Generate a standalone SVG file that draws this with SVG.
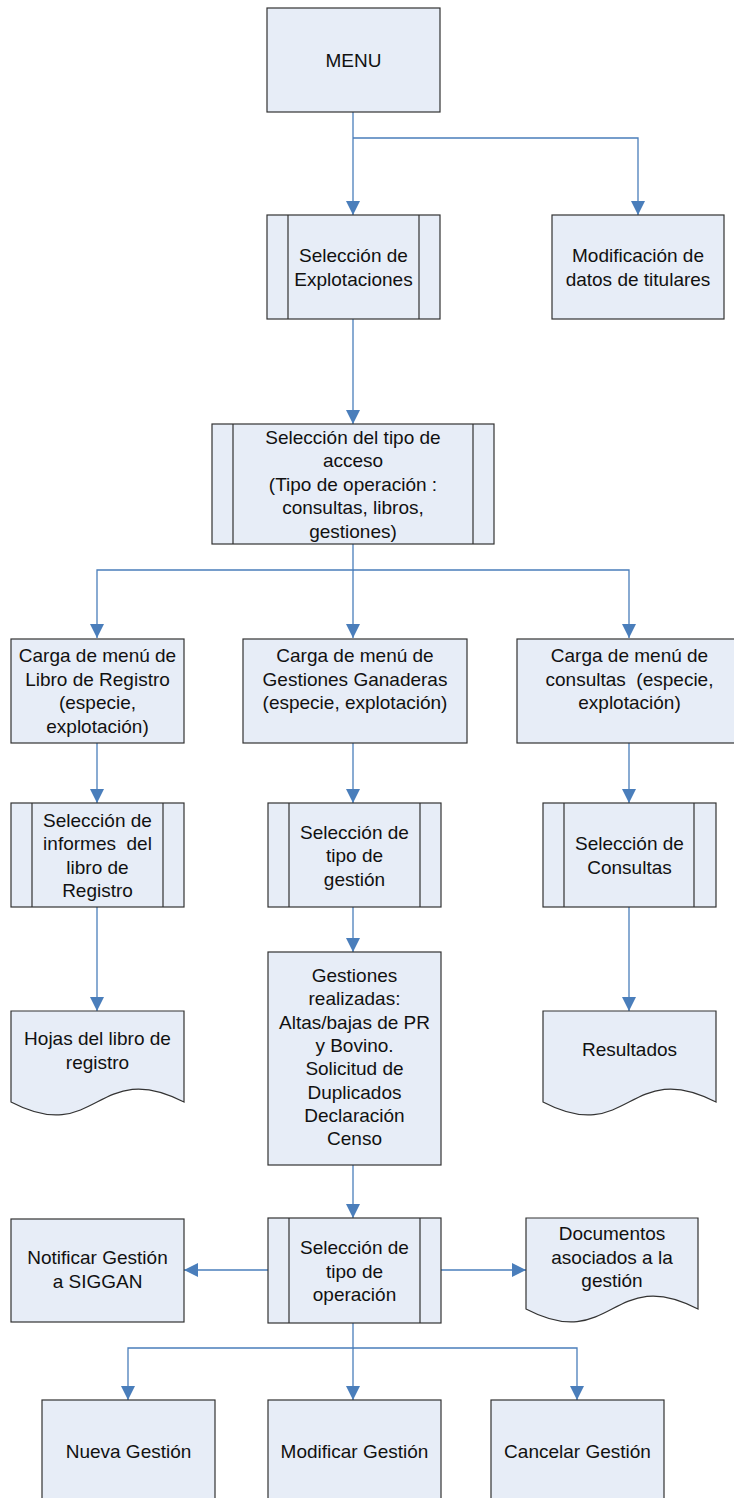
<svg xmlns="http://www.w3.org/2000/svg" width="734" height="1498" viewBox="0 0 734 1498">
<style>
.box{fill:#E7EDF7;stroke:#333;stroke-width:1.2}
.bar{stroke:#333;stroke-width:1.2;fill:none}
.con{fill:none;stroke:#4A7EBB;stroke-width:1.3}
text{font-family:"Liberation Sans",Arial,sans-serif;font-size:19px;fill:#111;text-anchor:middle;white-space:pre}
</style>
<defs>
<marker id="ah" markerUnits="userSpaceOnUse" markerWidth="14" markerHeight="14" viewBox="0 0 12 12" refX="12" refY="6" orient="auto">
<path d="M0,0 L12,6 L0,12 Z" fill="#4A7EBB"/>
</marker>
</defs>
<rect width="734" height="1498" fill="#fff"/>
<g id="connectors">
<path class="con" d="M353,112 V215" marker-end="url(#ah)"/>
<path class="con" d="M353,138 H638 V215" marker-end="url(#ah)"/>
<path class="con" d="M353,319 V424" marker-end="url(#ah)"/>
<path class="con" d="M353,544 V570 H97 V638" marker-end="url(#ah)"/>
<path class="con" d="M353,570 V638" marker-end="url(#ah)"/>
<path class="con" d="M353,570 H629 V638" marker-end="url(#ah)"/>
<path class="con" d="M97,743 V803" marker-end="url(#ah)"/>
<path class="con" d="M353,743 V803" marker-end="url(#ah)"/>
<path class="con" d="M629,743 V803" marker-end="url(#ah)"/>
<path class="con" d="M97,907 V1011" marker-end="url(#ah)"/>
<path class="con" d="M353,907 V952" marker-end="url(#ah)"/>
<path class="con" d="M629,907 V1011" marker-end="url(#ah)"/>
<path class="con" d="M353,1165 V1218" marker-end="url(#ah)"/>
<path class="con" d="M268,1270 H184" marker-end="url(#ah)"/>
<path class="con" d="M441,1270 H526" marker-end="url(#ah)"/>
<path class="con" d="M353,1323 V1348 H128 V1400" marker-end="url(#ah)"/>
<path class="con" d="M353,1348 V1400" marker-end="url(#ah)"/>
<path class="con" d="M353,1348 H577 V1400" marker-end="url(#ah)"/>
</g>
<g id="menu">
<rect class="box" x="267" y="8" width="173" height="104"/>
<text x="353.5" y="67">MENU</text>
</g>
<g id="sel-explotaciones">
<rect class="box" x="267" y="215" width="173" height="104"/>
<path class="bar" d="M288,215 V319 M419,215 V319"/>
<text x="353.5" y="262">Selección de</text>
<text x="353.5" y="285.5">Explotaciones</text>
</g>
<g id="mod-titulares">
<rect class="box" x="552" y="215" width="172" height="104"/>
<text x="638" y="262">Modificación de</text>
<text x="638" y="285.5">datos de titulares</text>
</g>
<g id="sel-tipo-acceso">
<rect class="box" x="212" y="424" width="282" height="120"/>
<path class="bar" d="M233,424 V544 M473,424 V544"/>
<text x="353" y="443.5">Selección del tipo de</text>
<text x="353" y="467">acceso</text>
<text x="353" y="490.5">(Tipo de operación :</text>
<text x="353" y="514">consultas, libros,</text>
<text x="353" y="537.5">gestiones)</text>
</g>
<g id="carga-libro">
<rect class="box" x="11" y="639" width="173" height="104"/>
<text x="97.5" y="662">Carga de menú de</text>
<text x="97.5" y="685.5">Libro de Registro</text>
<text x="97.5" y="709">(especie,</text>
<text x="97.5" y="732.5">explotación)</text>
</g>
<g id="carga-gestiones">
<rect class="box" x="243" y="639" width="224" height="104"/>
<text x="355" y="662">Carga de menú de</text>
<text x="355" y="685.5">Gestiones Ganaderas</text>
<text x="355" y="709">(especie, explotación)</text>
</g>
<g id="carga-consultas">
<rect class="box" x="517" y="639" width="226" height="104"/>
<text x="629.5" y="662">Carga de menú de</text>
<text x="629.5" y="685.5">consultas  (especie,</text>
<text x="629.5" y="709">explotación)</text>
</g>
<g id="sel-informes">
<rect class="box" x="11" y="803" width="173" height="104"/>
<path class="bar" d="M32,803 V907 M163,803 V907"/>
<text x="97.5" y="826.5">Selección de</text>
<text x="97.5" y="850">informes  del</text>
<text x="97.5" y="873.5">libro de</text>
<text x="97.5" y="897">Registro</text>
</g>
<g id="sel-tipo-gestion">
<rect class="box" x="268" y="803" width="173" height="104"/>
<path class="bar" d="M289,803 V907 M420,803 V907"/>
<text x="354.5" y="838.5">Selección de</text>
<text x="354.5" y="862">tipo de</text>
<text x="354.5" y="885.5">gestión</text>
</g>
<g id="sel-consultas">
<rect class="box" x="543" y="803" width="173" height="104"/>
<path class="bar" d="M564,803 V907 M694,803 V907"/>
<text x="629.5" y="850">Selección de</text>
<text x="629.5" y="873.5">Consultas</text>
</g>
<g id="hojas">
<path class="box" d="M11,1011 H184 V1102 C97,1057 97,1147 11,1102 Z"/>
<text x="97.5" y="1045">Hojas del libro de</text>
<text x="97.5" y="1068.5">registro</text>
</g>
<g id="gestiones-realizadas">
<rect class="box" x="268" y="952" width="173" height="213"/>
<text x="354.5" y="982">Gestiones</text>
<text x="354.5" y="1005.3">realizadas:</text>
<text x="354.5" y="1028.6">Altas/bajas de PR</text>
<text x="354.5" y="1051.9">y Bovino.</text>
<text x="354.5" y="1075.2">Solicitud de</text>
<text x="354.5" y="1098.5">Duplicados</text>
<text x="354.5" y="1121.8">Declaración</text>
<text x="354.5" y="1145.1">Censo</text>
</g>
<g id="resultados">
<path class="box" d="M543,1011 H716 V1102 C629,1057 629,1147 543,1102 Z"/>
<text x="629.5" y="1056">Resultados</text>
</g>
<g id="sel-tipo-operacion">
<rect class="box" x="268" y="1218" width="173" height="105"/>
<path class="bar" d="M289,1218 V1323 M420,1218 V1323"/>
<text x="354.5" y="1254">Selección de</text>
<text x="354.5" y="1277.5">tipo de</text>
<text x="354.5" y="1301">operación</text>
</g>
<g id="notificar">
<rect class="box" x="11" y="1219" width="173" height="103"/>
<text x="97.5" y="1264">Notificar Gestión</text>
<text x="97.5" y="1287.5">a SIGGAN</text>
</g>
<g id="documentos">
<path class="box" d="M526,1218 H698 V1309 C612,1264 612,1354 526,1309 Z"/>
<text x="612" y="1240">Documentos</text>
<text x="612" y="1263.5">asociados a la</text>
<text x="612" y="1287">gestión</text>
</g>
<g id="nueva">
<rect class="box" x="42" y="1400" width="173" height="110"/>
<text x="128.5" y="1458">Nueva Gestión</text>
</g>
<g id="modificar">
<rect class="box" x="268" y="1400" width="173" height="110"/>
<text x="354.5" y="1458">Modificar Gestión</text>
</g>
<g id="cancelar">
<rect class="box" x="491" y="1400" width="173" height="110"/>
<text x="577.5" y="1458">Cancelar Gestión</text>
</g>
</svg>
